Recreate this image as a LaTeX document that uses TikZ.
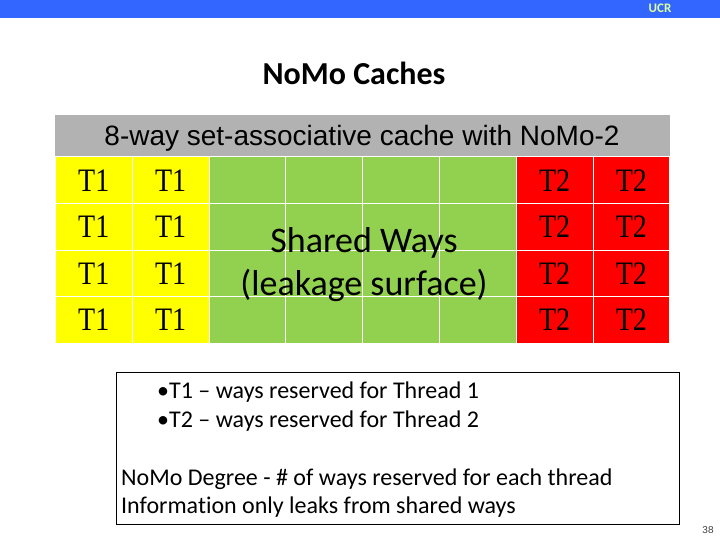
\documentclass[tikz,border=0pt]{standalone}
\usepackage{fontspec}
\setmainfont{Carlito}[Ligatures=NoCommon]
\newfontfamily\arialfont{Liberation Sans}
\newfontfamily\tnrfont{Liberation Serif}
\usetikzlibrary{positioning}
\definecolor{ucrblue}{HTML}{3366FF}
\definecolor{ucrtext}{HTML}{DDFF99}
\definecolor{hdrgray}{HTML}{B2B2B2}
\definecolor{t1yellow}{HTML}{FFFF00}
\definecolor{sharedgreen}{HTML}{92D050}
\definecolor{t2red}{HTML}{FF0000}

\begin{document}
\begin{tikzpicture}[x=1pt, y=-1pt,
  band/.style={inner sep=0pt, anchor=north west},
  cell/.style={draw=white, line width=0.8pt, minimum width=76.8pt, minimum height=46.6pt, inner sep=0pt, anchor=north west, font=\tnrfont\fontsize{28}{30}\selectfont},
  note/.style={anchor=base west, inner sep=0pt, font=\fontsize{24}{28}\selectfont}
]
\useasboundingbox (0,0) rectangle (720,540);

% top bar and title
\node[band, fill=ucrblue, minimum width=720pt, minimum height=18pt] (bar) at (0,0) {};
\node[text=ucrtext, font=\bfseries\fontsize{13}{13}\selectfont] (ucr) at (660,8) {UCR};
\node[font=\bfseries\fontsize{32}{36}\selectfont, anchor=base] (title) at (354,85) {NoMo Caches};

% cache
\node[band, fill=hdrgray, minimum width=614.5pt, minimum height=41.5pt] (hdr) at (55,115) {};
\node[font=\arialfont\fontsize{28}{30}\selectfont, anchor=base] (hdrtext) at (362,146) {8-way set-associative cache with NoMo-2};

\foreach \c/\col/\lbl in {0/t1yellow/T1, 1/t1yellow/T1, 2/sharedgreen/{}, 3/sharedgreen/{}, 4/sharedgreen/{}, 5/sharedgreen/{}, 6/t2red/T2, 7/t2red/T2}
  \foreach \r in {0,...,3}
    \node[cell, fill=\col] (c\c\r) at ({55+76.8*\c},{156.5+46.6*\r}) {\scalebox{1}[1.17]{\lbl}};

\node[align=center, font=\fontsize{36}{43}\selectfont] (shared) at (364,265) {Shared Ways\\(leakage surface)};

% legend box
\node[band, draw, line width=0.8pt, minimum width=562.5pt, minimum height=152pt] (info) at (116,372) {};
\node[note] (b1) at (157,398) {•T1 – ways reserved for Thread 1};
\node[note] (b2) at (157,427) {•T2 – ways reserved for Thread 2};
\node[note] (deg) at (121,485) {NoMo Degree - \# of ways reserved for each thread};
\node[note] (leak) at (121,513) {Information only leaks from shared ways};

\node[font=\arialfont\fontsize{10}{10}\selectfont, text=black!75] (page) at (708,530) {38};
\end{tikzpicture}
\end{document}
